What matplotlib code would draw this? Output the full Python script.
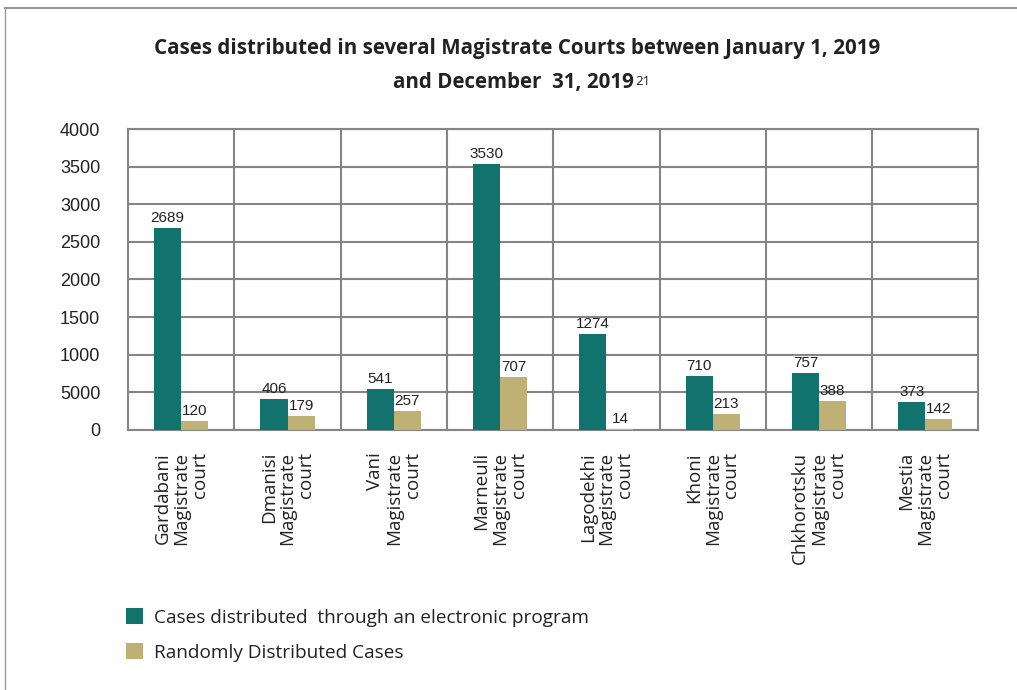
import matplotlib.pyplot as plt
from matplotlib.lines import Line2D
import numpy as np

courts = ["Gardabani", "Dmanisi", "Vani", "Marneuli", "Lagodekhi", "Khoni",
          "Chkhorotsku", "Mestia"]
electronic = [2689, 406, 541, 3530, 1274, 710, 757, 373]
random_cases = [120, 179, 257, 707, 14, 213, 388, 142]
yticks = [0, 500, 1000, 1500, 2000, 2500, 3000, 3500, 4000]
ytick_labels = ["0", "5000", "1000", "1500", "2000", "2500", "3000", "3500", "4000"]

teal = "#12736e"
tan = "#bfb076"
grid_c = "#858585"
label_font = "Open Sans"
num_font = "Liberation Sans"

fig = plt.figure(figsize=(10.17, 6.9), dpi=100)
ax = fig.add_axes([0.126, 0.377, 0.836, 0.436])

x = np.arange(len(courts))
w = 0.255
ax.bar(x - w / 2, electronic, width=w, color=teal, zorder=3,
       label="Cases distributed  through an electronic program")
ax.bar(x + w / 2, random_cases, width=w, color=tan, zorder=3,
       label="Randomly Distributed Cases")

for xi, e, r in zip(x, electronic, random_cases):
    ax.text(xi - w / 2, e + 40, str(e), ha="center", va="bottom",
            fontsize=11, family=num_font, color="#222222")
    ax.text(xi + w / 2, r + 40, str(r), ha="center", va="bottom",
            fontsize=11, family=num_font, color="#222222")

ax.set_xlim(-0.5, len(courts) - 0.5)
ax.set_ylim(0, 4000)
ax.set_yticks(yticks)
ax.set_yticklabels(ytick_labels, family=num_font, fontsize=13, color="#222222")
ax.set_xticks(x)
ax.set_xticklabels([f"{c}\nMagistrate\ncourt" for c in courts], rotation=90,
                   family=label_font, fontsize=13.5, color="#222222",
                   multialignment="right", linespacing=1.05)
ax.set_xticks(x[:-1] + 0.5, minor=True)
ax.tick_params(axis="both", which="both", length=0)
ax.tick_params(axis="x", pad=16)
ax.tick_params(axis="y", pad=20)
ax.grid(axis="y", which="major", color=grid_c, linewidth=1.5, zorder=0)
ax.grid(axis="x", which="minor", color=grid_c, linewidth=1.5, zorder=0)
for s in ax.spines.values():
    s.set_color(grid_c)
    s.set_linewidth(1.5)

fig.text(0.508, 0.929, "Cases distributed in several Magistrate Courts between January 1, 2019",
         ha="center", va="center", fontsize=14.8, fontweight="bold",
         family=label_font, color="#222222")
line2 = fig.text(0.505, 0.880, "and December  31, 2019",
                 ha="center", va="center", fontsize=14.8, fontweight="bold",
                 family=label_font, color="#222222")
ax.annotate("21", xy=(1, 0.85), xycoords=line2, xytext=(1, 0),
            textcoords="offset points", ha="left", va="top", fontsize=9.5,
            family=label_font, color="#222222")

fig.legend(loc="upper left", bbox_to_anchor=(0.107, 0.143), frameon=False,
           prop={"family": label_font, "size": 13.7}, handlelength=0.9,
           handleheight=0.9, handletextpad=0.55, labelspacing=0.85,
           labelcolor="#222222")

# outer frame (top and left edges)
fig.add_artist(Line2D([0.005, 1.0], [0.988, 0.988], transform=fig.transFigure,
                      color="#999999", linewidth=1.5))
fig.add_artist(Line2D([0.005, 0.005], [0.0, 0.988], transform=fig.transFigure,
                      color="#999999", linewidth=1.0))

plt.savefig("out.png", dpi=100)
